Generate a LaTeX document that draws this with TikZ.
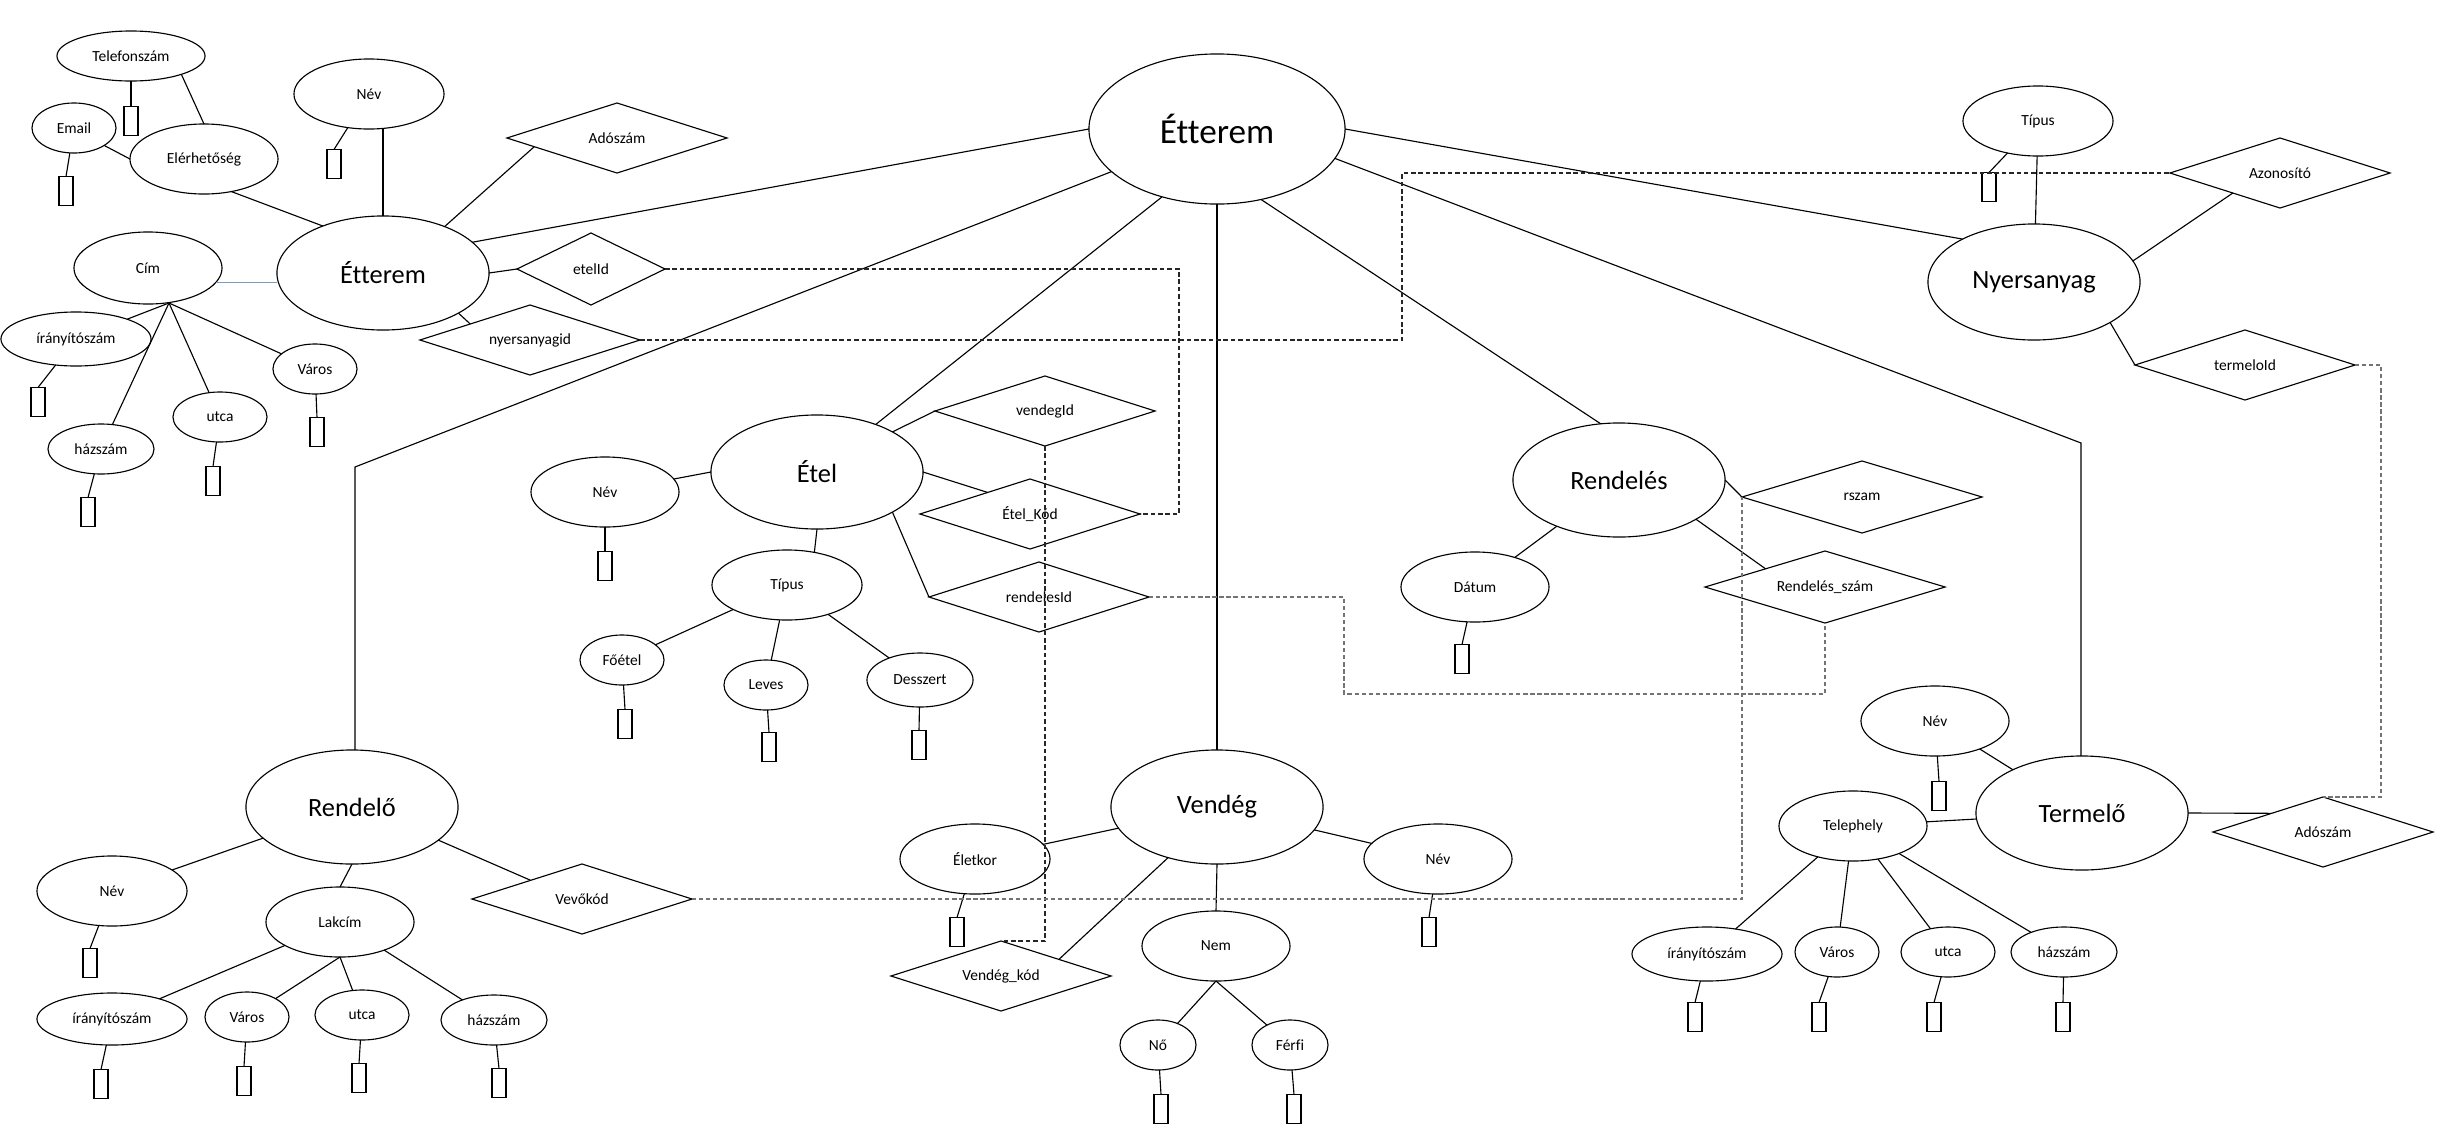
\documentclass[tikz,border=0pt]{standalone}
\usepackage{fontspec}
\setmainfont{Carlito}[Ligatures={NoCommon}]
\usetikzlibrary{shapes.geometric}
\begin{document}
\begin{tikzpicture}[x=0.01cm,y=-0.01cm,line width=0.32pt,
  every node/.style={inner sep=0pt,outer sep=0pt},
  ell/.style={draw,ellipse,font=\fontsize{4.4}{5}\selectfont},
  attr/.style={ell,minimum width=1.48cm,minimum height=0.70cm},
  zip/.style={ell,minimum width=1.50cm,minimum height=0.54cm},
  sm/.style={ell,minimum width=0.84cm,minimum height=0.50cm},
  ut/.style={ell,minimum width=0.94cm,minimum height=0.50cm},
  hz/.style={ell,minimum width=1.06cm,minimum height=0.50cm},
  tiny/.style={ell,minimum width=0.76cm,minimum height=0.50cm},
  tel/.style={ell,minimum width=1.48cm,minimum height=0.50cm},
  ent/.style={draw,ellipse,minimum width=2.12cm,minimum height=1.14cm,font=\fontsize{7.5}{9}\selectfont},
  big/.style={draw,ellipse,minimum width=2.56cm,minimum height=1.50cm,font=\fontsize{10}{12}\selectfont},
  dia/.style={draw,diamond,font=\fontsize{4.4}{5}\selectfont},
  dw/.style={dia,aspect=3.14,minimum width=2.20cm,minimum height=0.70cm},
  dn/.style={dia,aspect=2.06,minimum width=1.48cm,minimum height=0.72cm},
  dr/.style={dia,aspect=3.33,minimum width=2.40cm,minimum height=0.72cm},
  key/.style={draw,rectangle,minimum width=0.14cm,minimum height=0.29cm},
  fkdark/.style={black!85,line width=0.35pt,dash pattern=on 1.3pt off 0.8pt},
  fkgray/.style={black!55,line width=0.55pt,dash pattern=on 1.2pt off 0.8pt},
  cimline/.style={draw={rgb,255:red,120;green,155;blue,190},line width=0.45pt}
]
\useasboundingbox (0,0) rectangle (2457,1136);

% ---------- central entity
\node[big] (main) at (1217,129) {Étterem};

% ---------- Étterem (detail) and its attributes
\node[ent] (et) at (383,273) {Étterem};
\node[tel] (tel) at (131,56) {Telefonszám};
\node[sm] (email) at (74,128) {Email};
\node[attr] (eler) at (204,159) {Elérhetőség};
\node[attr,minimum width=1.50cm] (nev1) at (369,94) {Név};
\node[dw] (ado1) at (617,138) {Adószám};
\node[attr,minimum height=0.72cm] (cim) at (148,268) {Cím};
\node[dn] (etelid) at (591,269) {etelId};
\node[dw] (nyid) at (530,340) {nyersanyagid};
\node[zip] (zip1) at (76,339) {írányítószám};
\node[sm] (varos1) at (315,369) {Város};
\node[ut] (utca1) at (220,417) {utca};
\node[hz] (hsz1) at (101,449) {házszám};
\node[key] (ktel) at (131,121) {};
\node[key] (kemail) at (66,191) {};
\node[key] (knev1) at (334,164) {};
\node[key] (kzip1) at (38,402) {};
\node[key] (kvaros1) at (317,432) {};
\node[key] (kutca1) at (213,481) {};
\node[key] (khsz1) at (88,512) {};

\draw (tel) -- (ktel.north);
\draw (tel.340) -- (eler.north);
\draw (email) -- (kemail.north);
\draw (email.330) -- (eler.west);
\draw (eler.310) -- (et.142);
\draw (nev1) -- (knev1.north);
\draw (et.north) -- (et.north |- nev1.south);
\draw (et.37) -- (ado1.186);
\draw[cimline] (cim.-12) -- (cim.-12 -| et.west);
\draw (et.east) -- (etelid.west);
\draw (et.332) -- (nyid.165);
\coordinate (cimf) at (169,303);
\draw (cimf) -- (zip1);
\draw (cimf) -- (hsz1);
\draw (cimf) -- (utca1);
\draw (cimf) -- (varos1);
\draw (zip1) -- (kzip1.north);
\draw (varos1) -- (kvaros1.north);
\draw (utca1) -- (kutca1.north);
\draw (hsz1) -- (khsz1.north);

% ---------- Nyersanyag
\node[ent,minimum height=1.16cm] (nyers) at (2034,282) {Nyersanyag};
\node[attr,minimum width=1.50cm] (tip2) at (2038,121) {Típus};
\node[key] (ktip2) at (1989,187) {};
\node[dw] (azon) at (2280,173) {Azonosító};
\node[dw] (termid) at (2245,365) {termeloId};
\draw (tip2) -- (ktip2.north);
\draw (tip2) -- (nyers);
\draw (azon.203) -- (nyers.12.6);
\draw (nyers.332) -- (termid.west);

% ---------- Étel
\node[ent] (etel) at (817,472) {Étel};
\node[attr] (nev3) at (605,492) {Név};
\node[key] (knev3) at (605,566) {};
\node[dw] (vendid) at (1045,411) {vendegId};
\node[dw] (etelkod) at (1030,514) {Étel\_Kód};
\node[dw] (rendid) at (1039,597) {rendelesId};
\node[attr,minimum width=1.50cm] (tip1) at (787,585) {Típus};
\node[sm] (foetel) at (622,660) {Főétel};
\node[sm] (leves) at (766,685) {Leves};
\node[hz,minimum height=0.54cm] (dessz) at (920,680) {Desszert};
\node[key] (kfoetel) at (625,724) {};
\node[key] (kleves) at (769,747) {};
\node[key] (kdessz) at (919,745) {};
\draw (nev3) -- (etel.west);
\draw (nev3) -- (knev3.north);
\draw (etel.28) -- (vendid.west);
\draw (etel.east) -- (etelkod.153);
\draw (etel.332) -- (rendid.west);
\draw (etel.south) -- (tip1.50);
\draw (tip1) -- (foetel);
\draw (tip1) -- (leves);
\draw (tip1) -- (dessz);
\draw (foetel) -- (kfoetel.north);
\draw (leves) -- (kleves.north);
\draw (dessz) -- (kdessz.north);

% ---------- Rendelés
\node[ent] (rend) at (1619,480) {Rendelés};
\node[dr] (rszam) at (1862,497) {rszam};
\node[dr] (rszam2) at (1825,587) {Rendelés\_szám};
\node[attr] (datum) at (1475,587) {Dátum};
\node[key] (kdatum) at (1462,659) {};
\draw (rend.east) -- (rszam.west);
\draw (rend.333) -- (rszam2.163);
\draw (rend) -- (datum);
\draw (datum) -- (kdatum.north);

% ---------- Vendég
\node[ent] (vendeg) at (1217,807) {Vendég};
\node[attr,minimum width=1.50cm] (eletkor) at (975,859) {Életkor};
\node[key] (keletkor) at (957,932) {};
\node[dw] (vkod) at (1001,976) {Vendég\_kód};
\node[attr] (nev4) at (1438,859) {Név};
\node[key] (knev4) at (1429,932) {};
\node[attr] (nem) at (1216,946) {Nem};
\node[tiny] (no) at (1158,1045) {Nő};
\node[tiny] (ferfi) at (1290,1045) {Férfi};
\node[key] (kno) at (1161,1109) {};
\node[key] (kferfi) at (1294,1109) {};
\draw (eletkor) -- (vendeg);
\draw (eletkor) -- (keletkor.north);
\draw (vendeg.226.7) -- (vkod.16);
\draw (vendeg) -- (nev4);
\draw (nev4) -- (knev4.north);
\draw (vendeg.south) -- (nem.north);
\draw (nem.south) -- (no);
\draw (nem.south) -- (ferfi);
\draw (no) -- (kno.north);
\draw (ferfi) -- (kferfi.north);

% ---------- Rendelő
\node[ent] (rendelo) at (352,807) {Rendelő};
\node[attr,minimum width=1.50cm] (nev2) at (112,891) {Név};
\node[key] (knev2) at (90,963) {};
\node[attr] (lakcim) at (340,922) {Lakcím};
\node[dw] (vevo) at (582,899) {Vevőkód};
\node[zip,minimum height=0.52cm] (zip2) at (112,1019) {írányítószám};
\node[sm] (varos2) at (247,1017) {Város};
\node[ut] (utca2) at (362,1015) {utca};
\node[hz] (hsz2) at (494,1020) {házszám};
\node[key] (kzip2) at (101,1084) {};
\node[key] (kvaros2) at (244,1081) {};
\node[key] (kutca2) at (359,1078) {};
\node[key] (khsz2) at (499,1083) {};
\draw (rendelo) -- (nev2);
\draw (nev2) -- (knev2.north);
\draw (rendelo.south) -- (lakcim.north);
\draw (rendelo.339.7) -- (vevo.160);
\draw (lakcim) -- (zip2);
\draw (lakcim.south) -- (varos2);
\draw (lakcim.south) -- (utca2);
\draw (lakcim) -- (hsz2);
\draw (zip2) -- (kzip2.north);
\draw (varos2) -- (kvaros2.north);
\draw (utca2) -- (kutca2.north);
\draw (hsz2) -- (khsz2.north);

% ---------- Termelő
\node[ent] (termelo) at (2082,813) {Termelő};
\node[attr] (nev5) at (1935,721) {Név};
\node[key] (knev5) at (1939,796) {};
\node[attr] (telep) at (1853,826) {Telephely};
\node[dw] (ado2) at (2323,832) {Adószám};
\node[zip] (zip3) at (1707,954) {írányítószám};
\node[sm] (varos3) at (1837,952) {Város};
\node[ut] (utca3) at (1948,952) {utca};
\node[hz] (hsz3) at (2064,952) {házszám};
\node[key] (kzip3) at (1695,1017) {};
\node[key] (kvaros3) at (1819,1017) {};
\node[key] (kutca3) at (1934,1017) {};
\node[key] (khsz3) at (2063,1017) {};
\draw (nev5) -- (termelo);
\draw (nev5) -- (knev5.north);
\draw (telep) -- (termelo);
\draw (termelo.east) -- (ado2.160);
\draw (telep) -- (zip3);
\draw (telep) -- (varos3);
\draw (telep) -- (utca3);
\draw (telep) -- (hsz3);
\draw (zip3) -- (kzip3.north);
\draw (varos3) -- (kvaros3.north);
\draw (utca3) -- (kutca3.north);
\draw (hsz3) -- (khsz3.north);

% ---------- relationships of the central entity
\draw (main.180) -- (et.19);
\coordinate (b1) at (355,467);
\draw (main.202) -- (b1) -- (b1 |- rendelo.north);
\draw (main.231.5) -- (etel.39);
\draw (main.south) -- (vendeg.north);
\draw (main.302.8) -- (rend.108);
\coordinate (b2) at (2081,443);
\draw (main.346) -- (b2) -- (b2 |- termelo.north);
\draw (main.0) -- (nyers.149);

% ---------- foreign keys (dashed)
\coordinate (d1) at (1179,514);
\draw[fkdark] (etelid.east) -| (d1) -- (etelkod.east);
\coordinate (d2) at (1402,340);
\draw[fkdark] (nyid.east) -- (d2) |- (azon.west);
\draw[fkdark] (vendid.south) |- (vkod.north);
\coordinate (d4) at (1344,694);
\draw[fkgray] (rendid.east) -| (d4) -| (rszam2.south);
\draw[fkgray] (vevo.east) -| (rszam.west);
\coordinate (d6) at (2381,365);
\draw[fkgray] (termid.east) -- (d6) |- (ado2.north);
\end{tikzpicture}
\end{document}
